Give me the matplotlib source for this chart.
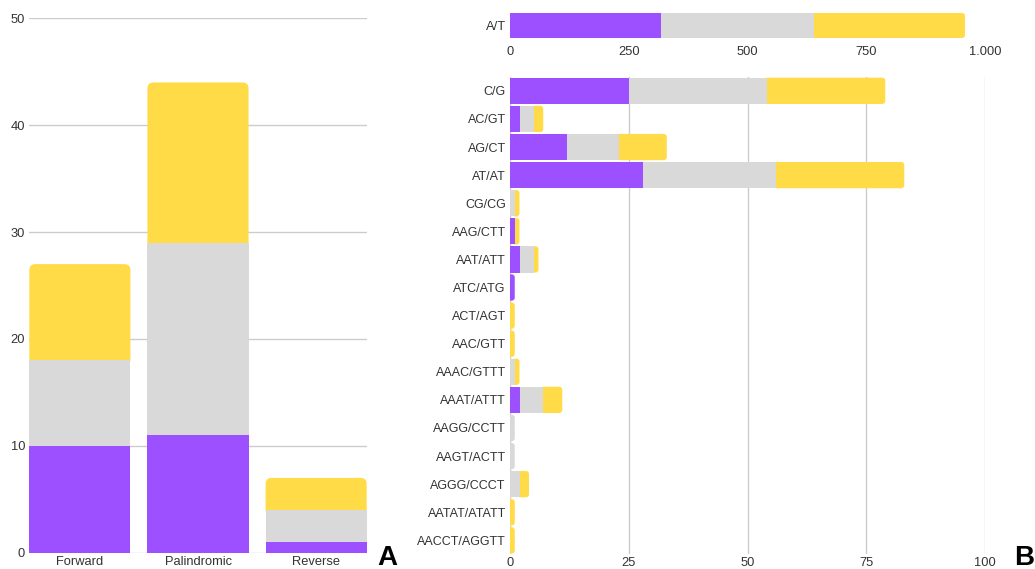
import matplotlib
matplotlib.use('Agg')
import matplotlib.pyplot as plt
from matplotlib.patches import FancyBboxPatch

plt.rcParams['font.family'] = ['Liberation Sans', 'DejaVu Sans']

# colours
PURPLE = '#9c50ff'
GREY = '#d9d9d9'
YELLOW = '#ffdc47'
GRID = '#cccccc'
TXT = '#333333'

# panel A data
cats_a = ['Forward', 'Palindromic', 'Reverse']
purple_a = [10, 11, 1]
grey_a = [8, 18, 3]
yellow_a = [9, 15, 3]

# panel B, top (A/T is on its own scale)
cats_top = ['A/T']
purple_top = [318]
grey_top = [322]
yellow_top = [318]
top_ticks = [0, 250, 500, 750, 1000]
top_ticklabels = ['0', '250', '500', '750', '1.000']

# panel B, bottom
motifs = ['C/G', 'AC/GT', 'AG/CT', 'AT/AT', 'CG/CG', 'AAG/CTT', 'AAT/ATT',
          'ATC/ATG', 'ACT/AGT', 'AAC/GTT', 'AAAC/GTTT', 'AAAT/ATTT',
          'AAGG/CCTT', 'AAGT/ACTT', 'AGGG/CCCT', 'AATAT/ATATT', 'AACCT/AGGTT']
purple_b = [25, 2, 12, 28, 0, 1, 2, 1, 0, 0, 0, 2, 0, 0, 0, 0, 0]
grey_b = [29, 3, 11, 28, 1, 0, 3, 0, 0, 0, 1, 5, 1, 1, 2, 0, 0]
yellow_b = [25, 2, 10, 27, 1, 1, 1, 0, 1, 1, 1, 4, 0, 0, 2, 1, 1]
bottom_ticks = [0, 25, 50, 75, 100]


def round_last(ax, containers, r_px, horizontal):
    # swap the outer segment of every stack for a box with rounded ends
    t = ax.transData
    px_x = abs(t.transform((1, 0))[0] - t.transform((0, 0))[0])
    px_y = abs(t.transform((0, 1))[1] - t.transform((0, 0))[1])
    for i in range(len(containers[0].patches)):
        segs = []
        for c in containers:
            p = c.patches[i]
            size = p.get_width() if horizontal else p.get_height()
            if size > 0:
                segs.append(p)
        if not segs:
            continue
        last = segs[-1]
        x, y = last.get_x(), last.get_y()
        w, h = last.get_width(), last.get_height()
        if horizontal:
            x -= r_px / px_x
            w += r_px / px_x
        else:
            y -= r_px / px_y
            h += r_px / px_y
        box = FancyBboxPatch((x, y), w, h,
                             boxstyle=f'round,pad=0,rounding_size={r_px / px_x}',
                             mutation_aspect=px_x / px_y,
                             fc=last.get_facecolor(), ec='none', zorder=0.9)
        last.set_visible(False)
        ax.add_patch(box)


fig = plt.figure(figsize=(10.35, 5.69), dpi=100)

# ---- panel A ----
W, H = 1035, 569
axA = fig.add_axes([29.3 / W, (H - 552.7) / H, 337.4 / W, 534.4 / H])
xa = list(range(len(cats_a)))
bw = 0.856
b1 = axA.bar(xa, purple_a, bw, color=PURPLE)
b2 = axA.bar(xa, grey_a, bw, bottom=purple_a, color=GREY)
bot = [p + g for p, g in zip(purple_a, grey_a)]
b3 = axA.bar(xa, yellow_a, bw, bottom=bot, color=YELLOW)
axA.set_xlim(-bw / 2, len(cats_a) - 1 + bw / 2)
axA.set_ylim(0, 50)
axA.set_yticks([0, 10, 20, 30, 40, 50])
axA.set_xticks(xa)
axA.set_xticklabels(cats_a)
axA.set_axisbelow(True)
axA.grid(axis='y', color=GRID, linewidth=1)
for s in axA.spines.values():
    s.set_visible(False)
axA.tick_params(axis='y', length=0, pad=3, labelsize=9.3, labelcolor=TXT)
axA.tick_params(axis='x', length=0, pad=2.5, labelsize=9.3, labelcolor=TXT)
round_last(axA, [b1, b2, b3], 6, horizontal=False)

# ---- panel B top ----
axT = fig.add_axes([510 / W, (H - 38) / H, 475 / W, 25 / H])
t1 = axT.barh(cats_top, purple_top, 1.0, color=PURPLE)
t2 = axT.barh(cats_top, grey_top, 1.0, left=purple_top, color=GREY)
lt = [p + g for p, g in zip(purple_top, grey_top)]
t3 = axT.barh(cats_top, yellow_top, 1.0, left=lt, color=YELLOW)
axT.set_xlim(0, 1000)
axT.set_ylim(-0.5, 0.5)
axT.set_xticks(top_ticks)
axT.set_xticklabels(top_ticklabels)
axT.set_xticks([0, 1000], minor=True)
axT.tick_params(axis='x', which='major', length=0, pad=6, labelsize=9.3, labelcolor=TXT)
axT.tick_params(axis='x', which='minor', length=5, width=1, color=GRID)
axT.tick_params(axis='y', length=0, pad=3, labelsize=9.3, labelcolor=TXT)
for s in axT.spines.values():
    s.set_visible(False)
round_last(axT, [t1, t2, t3], 3, horizontal=True)

# ---- panel B bottom ----
axB = fig.add_axes([510 / W, (H - 554.4) / H, 475 / W, 477.6 / H])
yb = list(range(len(motifs)))
bh = 0.935
c1 = axB.barh(yb, purple_b, bh, color=PURPLE)
c2 = axB.barh(yb, grey_b, bh, left=purple_b, color=GREY)
lb = [p + g for p, g in zip(purple_b, grey_b)]
c3 = axB.barh(yb, yellow_b, bh, left=lb, color=YELLOW)
axB.set_xlim(0, 100)
axB.set_ylim(len(motifs) - 0.5, -0.5)
axB.set_yticks(yb)
axB.set_yticklabels(motifs)
axB.set_xticks(bottom_ticks)
axB.set_axisbelow(True)
axB.grid(axis='x', color=GRID, linewidth=1)
for s in axB.spines.values():
    s.set_visible(False)
axB.tick_params(axis='y', length=0, pad=3, labelsize=9, labelcolor=TXT)
axB.tick_params(axis='x', length=0, pad=2, labelsize=9.3, labelcolor=TXT)
round_last(axB, [c1, c2, c3], 3, horizontal=True)

# panel letters
fig.text(387 / W, 0.007, 'A', fontsize=20, fontweight='bold', ha='center', va='baseline')
fig.text(1024 / W, 0.007, 'B', fontsize=20, fontweight='bold', ha='center', va='baseline')

fig.savefig('out.png', dpi=100)
